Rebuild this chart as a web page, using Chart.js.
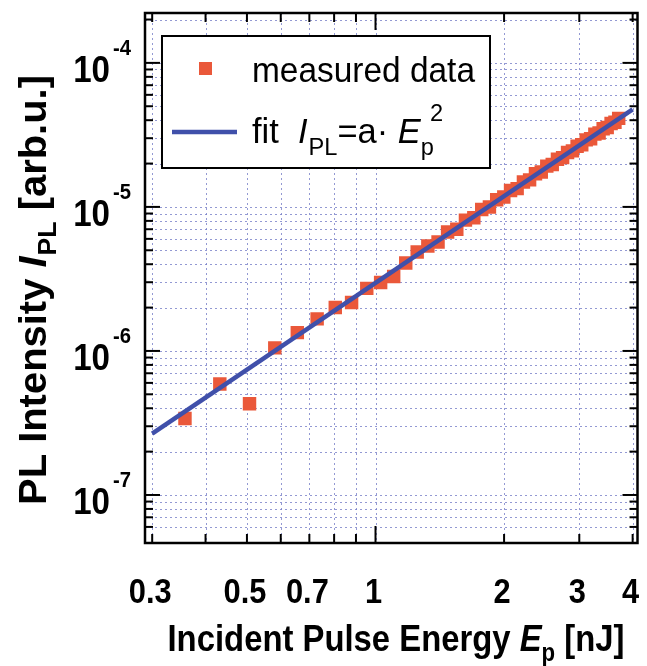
<!DOCTYPE html>
<html><head><meta charset="utf-8">
<script src="https://cdn.jsdelivr.net/npm/chart.js@4"></script>
<style>html,body{margin:0;padding:0;background:#fff;overflow:hidden}#wrap{width:647px;height:666px;position:relative}</style>
</head><body><div id="wrap"><canvas id="c" width="647" height="666"></canvas></div>
<script>
// ---- data ----
const energy = [0.358,0.432,0.507,0.581,0.656,0.730,0.805,0.879,0.954,1.028,1.103,1.177,1.252,1.326,1.401,1.475,1.550,1.624,1.699,1.773,1.848,1.922,1.997,2.071,2.146,2.220,2.295,2.369,2.444,2.518,2.593,2.667,2.742,2.816,2.891,2.965,3.040,3.114,3.189,3.263,3.338,3.412,3.487,3.561,3.636,3.710];
const intensity = [3.4e-7,5.9e-7,4.3e-7,1.05e-6,1.34e-6,1.67e-6,2.0e-6,2.17e-6,2.72e-6,2.99e-6,3.29e-6,4.08e-6,4.87e-6,5.36e-6,5.71e-6,6.7e-6,7.0e-6,8.1e-6,8.4e-6,9.6e-6,1.00e-5,1.12e-5,1.17e-5,1.30e-5,1.34e-5,1.49e-5,1.54e-5,1.70e-5,1.75e-5,1.92e-5,1.97e-5,2.14e-5,2.20e-5,2.39e-5,2.45e-5,2.64e-5,2.70e-5,2.92e-5,2.97e-5,3.20e-5,3.26e-5,3.49e-5,3.56e-5,3.80e-5,3.87e-5,4.12e-5];
const fitEnergy = [0.3, 4.0];
const fitIntensity = [2.67e-7, 4.75e-5];
const xGridValues = [0.3,0.4,0.5,0.6,0.7,0.8,0.9,1,2,3,4];
const xMajorValues = [1];
const xTickLabels = [0.3,0.5,0.7,1,2,3,4];
const yGridValues = [6e-8,7e-8,8e-8,9e-8,1e-7,2e-7,3e-7,4e-7,5e-7,6e-7,7e-7,8e-7,9e-7,1e-6,2e-6,3e-6,4e-6,5e-6,6e-6,7e-6,8e-6,9e-6,1e-5,2e-5,3e-5,4e-5,5e-5,6e-5,7e-5,8e-5,9e-5,1e-4,2e-4];
const yTickExponents = [-7,-6,-5,-4];
const legendLabels = ['measured data','fit'];

const FONT = '"Liberation Sans", Arial, Helvetica, sans-serif';
const MARK = 'rgb(234,88,58)';
const LINE = 'rgb(64,80,170)';

function richWidth(ctx, segs){
  let w = 0;
  for (const s of segs){ ctx.font = s.font; w += ctx.measureText(s.t).width + (s.gap||0); }
  return w;
}
function drawRich(ctx, segs, x, y, o){
  o = o || {};
  const total = richWidth(ctx, segs);
  const sc = o.targetW ? o.targetW / total : (o.sx || 1);
  ctx.save();
  ctx.translate(x, y);
  if (o.rotate) ctx.rotate(o.rotate);
  ctx.scale(sc, 1);
  let cx = o.align === 'center' ? -total/2 : (o.align === 'right' ? -total : 0);
  ctx.fillStyle = '#000';
  ctx.textBaseline = 'alphabetic';
  ctx.textAlign = 'left';
  for (const s of segs){
    ctx.font = s.font;
    ctx.fillText(s.t, cx + (s.dx||0), s.dy||0);
    cx += ctx.measureText(s.t).width + (s.gap||0);
  }
  ctx.restore();
}

const deco = {
  id: 'deco',
  beforeDatasetsDraw(chart){
    const {ctx, chartArea: a, scales: {x, y}} = chart;
    ctx.save();
    ctx.strokeStyle = 'rgba(120,128,200,0.8)';
    ctx.lineWidth = 1;
    ctx.setLineDash([2,3]);
    for (const v of xGridValues){
      const px = Math.round(x.getPixelForValue(v)) + 0.5;
      ctx.beginPath(); ctx.moveTo(px, a.top); ctx.lineTo(px, a.bottom); ctx.stroke();
    }
    for (const v of yGridValues){
      const py = Math.round(y.getPixelForValue(v)) + 0.5;
      if (py < a.top || py > a.bottom) continue;
      ctx.beginPath(); ctx.moveTo(a.left, py); ctx.lineTo(a.right, py); ctx.stroke();
    }
    ctx.restore();
  },
  afterDatasetsDraw(chart){
    const {ctx, chartArea: a, scales: {x, y}} = chart;
    ctx.save();
    ctx.strokeStyle = '#000';
    ctx.lineWidth = 2;
    ctx.setLineDash([]);
    for (const v of xGridValues){
      const px = x.getPixelForValue(v);
      const L = xMajorValues.includes(v) ? 17 : 9;
      ctx.beginPath(); ctx.moveTo(px, a.bottom); ctx.lineTo(px, a.bottom - L); ctx.stroke();
      ctx.beginPath(); ctx.moveTo(px, a.top); ctx.lineTo(px, a.top + L); ctx.stroke();
    }
    for (const v of yGridValues){
      const py = y.getPixelForValue(v);
      if (py < a.top || py > a.bottom) continue;
      const e = Math.log10(v);
      const L = Math.abs(e - Math.round(e)) < 1e-6 ? 15 : 8;
      ctx.beginPath(); ctx.moveTo(a.left, py); ctx.lineTo(a.left + L, py); ctx.stroke();
      ctx.beginPath(); ctx.moveTo(a.right, py); ctx.lineTo(a.right - L, py); ctx.stroke();
    }
    ctx.lineWidth = 2.5;
    ctx.strokeRect(a.left, a.top, a.right - a.left, a.bottom - a.top);
    ctx.restore();
  },
  afterDraw(chart){
    const {ctx, chartArea: a, scales: {x, y}} = chart;
    // x tick labels (condensed bold)
    for (const v of xTickLabels){
      drawRich(ctx, [{t: String(v), font: 'bold 35px ' + FONT}], x.getPixelForValue(v) - 2, 603, {align: 'center', sx: 0.88});
    }
    // y tick labels 10^n
    for (const e of yTickExponents){
      const py = y.getPixelForValue(Math.pow(10, e));
      drawRich(ctx, [{t: '10', font: 'bold 36px ' + FONT}], 110, py + 19, {align: 'right', sx: 0.92});
      drawRich(ctx, [{t: '-' + (-e), font: 'bold 22px ' + FONT}], 113, py - 8, {align: 'left', sx: 0.92});
    }

    // x axis title
    const bf = 'bold 37px ' + FONT, bi = 'italic bold 37px ' + FONT, bs = 'bold 25px ' + FONT;
    drawRich(ctx, [
      {t:'Incident Pulse Energy ', font: bf},
      {t:'E', font: bi},
      {t:'p', font: bs, dy: 10},
      {t:' [nJ]', font: bf}
    ], 396, 651, {align:'center', targetW: 457});

    // y axis title (rotated)
    const yf = 'bold 39px ' + FONT, yi = 'italic bold 39px ' + FONT, ys = 'bold 26px ' + FONT;
    drawRich(ctx, [
      {t:'PL Intensity ', font: yf},
      {t:'I', font: yi, gap: 1},
      {t:'PL', font: ys, dy: 10},
      {t:' [arb.u.]', font: yf}
    ], 46, 290, {align:'center', rotate: -Math.PI/2, targetW: 430});

    // legend
    ctx.save();
    ctx.fillStyle = '#fff';
    ctx.fillRect(162, 36, 328, 132);
    ctx.strokeStyle = '#000';
    ctx.lineWidth = 2;
    ctx.strokeRect(162, 36, 328, 132);
    ctx.fillStyle = MARK;
    ctx.fillRect(199, 62, 13, 13);
    ctx.strokeStyle = LINE;
    ctx.lineWidth = 4.5;
    ctx.beginPath(); ctx.moveTo(172, 132); ctx.lineTo(237, 132); ctx.stroke();
    ctx.restore();
    const lf = '35px ' + FONT, li = 'italic 35px ' + FONT, ls = '24px ' + FONT;
    drawRich(ctx, [{t: legendLabels[0], font: lf}], 252, 82, {targetW: 223});
    drawRich(ctx, [
      {t: legendLabels[1] + '  ', font: lf},
      {t:'I', font: li, gap: 1},
      {t:'PL', font: ls, dy: 12},
      {t:'=a\u00B7 ', font: lf},
      {t:'E', font: li},
      {t:'p', font: ls, dy: 12},
      {t:'2', font: ls, dy: -22, dx: -4}
    ], 252, 143, {targetW: 195});
  }
};

const ctx = document.getElementById('c').getContext('2d');
new Chart(ctx, {
  type: 'scatter',
  data: {
    datasets: [
      {
        type: 'line',
        label: legendLabels[1],
        data: fitEnergy.map((v, i) => ({x: v, y: fitIntensity[i]})),
        borderColor: LINE,
        borderWidth: 4.5,
        pointRadius: 0,
        fill: false,
        tension: 0,
        order: 0
      },
      {
        type: 'scatter',
        label: legendLabels[0],
        data: energy.map((v, i) => ({x: v, y: intensity[i]})),
        pointStyle: 'rect',
        pointRadius: 9.5,
        backgroundColor: MARK,
        borderWidth: 0,
        order: 1
      }
    ]
  },
  options: {
    responsive: false,
    animation: false,
    devicePixelRatio: 1,
    layout: {padding: {left: 145, top: 13, right: 2, bottom: 123}},
    plugins: {legend: {display: false}, tooltip: {enabled: false}},
    scales: {
      x: {
        type: 'logarithmic', min: 0.2886, max: 4.106,
        ticks: {display: false},
        grid: {display: false, drawTicks: false},
        border: {display: false}
      },
      y: {
        type: 'logarithmic', min: 4.64e-8, max: 2.22e-4,
        ticks: {display: false},
        grid: {display: false, drawTicks: false},
        border: {display: false}
      }
    }
  },
  plugins: [deco]
});
</script>
</body></html>
